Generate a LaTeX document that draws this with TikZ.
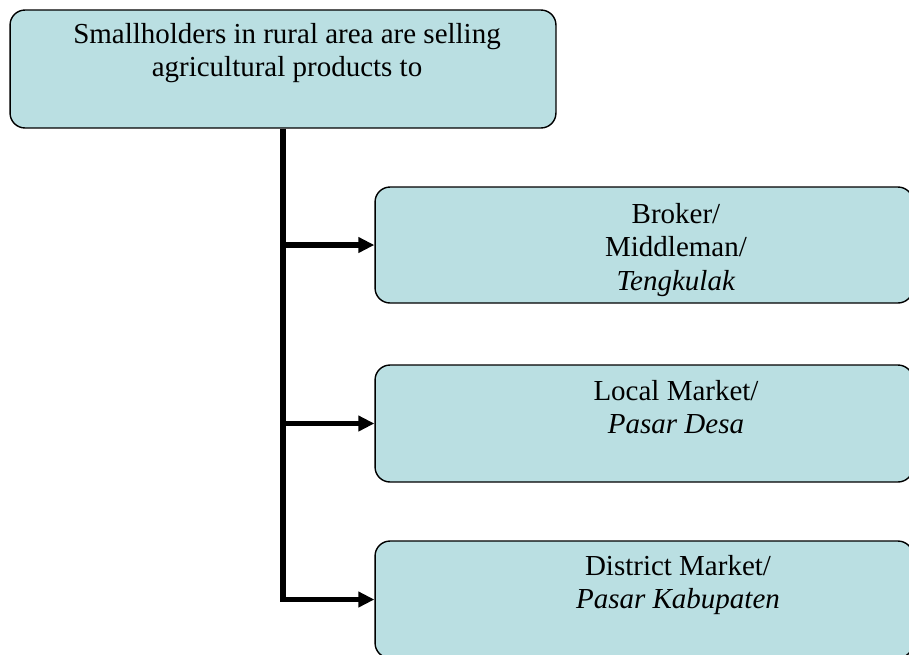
\documentclass[tikz,border=0pt]{standalone}
\usepackage{fontspec}
\setmainfont{Liberation Serif}
\usetikzlibrary{arrows.meta}
\definecolor{BoxBlue}{HTML}{BADFE2}

\begin{document}
\begin{tikzpicture}[x=0.02cm, y=-0.02cm,
  box/.style={draw, fill=BoxBlue, rounded corners=0.3cm, line width=0.8pt, inner sep=0pt},
  lbl/.style={align=center, font=\fontsize{16.5}{18.8}\selectfont, inner sep=0pt},
  feed/.style={line width=3.2pt, -{Triangle[length=0.32cm, width=0.3cm]}}]
  \useasboundingbox (0,0) rectangle (909,654);
  \clip (0,0) rectangle (909,654);
  % boxes
  \node[box, minimum width=10.92cm, minimum height=2.36cm] (seller) at (283,69) {};
  \node[box, minimum width=10.76cm, minimum height=2.32cm] (broker) at (644,245) {};
  \node[box, minimum width=10.76cm, minimum height=2.34cm] (market) at (644,423.5) {};
  \node[box, minimum width=10.76cm, minimum height=2.34cm] (district) at (644,599.5) {};
  % texts
  \node[lbl] (sellertxt) at (287,53) {Smallholders in rural area are selling\\agricultural products to};
  \node[lbl] (brokertxt) at (676,250) {Broker/\\Middleman/\\\textit{Tengkulak}};
  \node[lbl] (markettxt) at (676,407) {Local Market/\\\textit{Pasar Desa}};
  \node[lbl] (districttxt) at (678,585) {District Market/\\\textit{Pasar Kabupaten}};
  % connectors
  \draw[feed] (seller.south) |- (district.west);
  \draw[feed] (seller.south |- broker.west) -- (broker.west);
  \draw[feed] (seller.south |- market.west) -- (market.west);
\end{tikzpicture}
\end{document}
